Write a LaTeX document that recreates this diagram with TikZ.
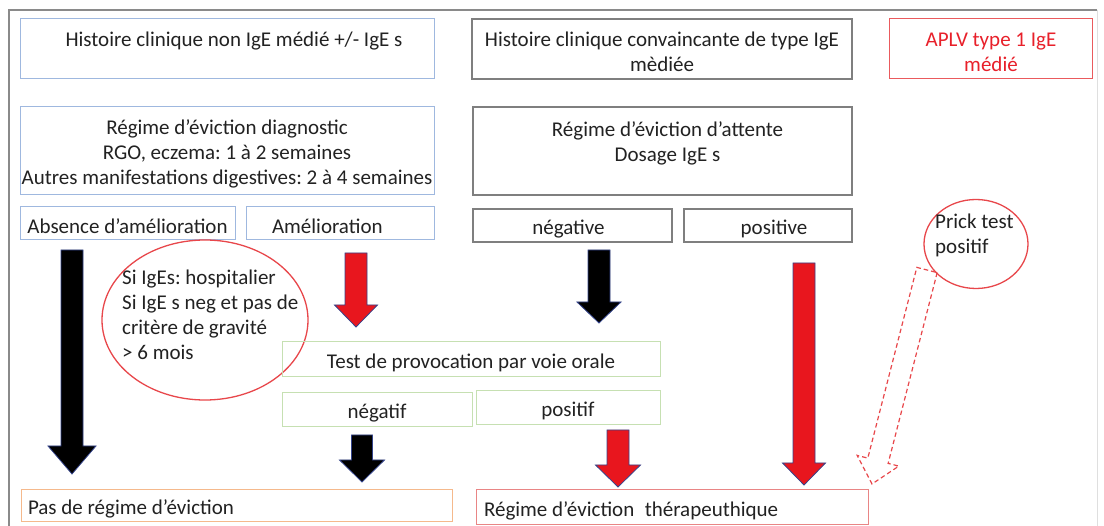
\documentclass[tikz,border=0pt]{standalone}
\usepackage{fontspec}
\setmainfont{Carlito}
\frenchspacing
\usetikzlibrary{calc,shapes.geometric}
\definecolor{bxblue}{HTML}{9FB8DF}
\definecolor{bxgray}{HTML}{7F7F7F}
\definecolor{bxred}{HTML}{EA5A5D}
\definecolor{bxgreen}{HTML}{C6E0B2}
\definecolor{bxorange}{HTML}{F5B98C}
\definecolor{bxpink}{HTML}{E98585}
\definecolor{ellred}{HTML}{E8474B}
\definecolor{arrred}{HTML}{E8161E}
\definecolor{arrline}{HTML}{34448C}
\definecolor{txt}{HTML}{222222}
\definecolor{aplvred}{HTML}{E8202A}
\definecolor{framecol}{HTML}{8A8A8A}

\newcommand{\upstrut}{\rule{0pt}{21pt}}

\tikzset{
  every node/.style={font=\fontsize{21}{25}\selectfont\frenchspacing, text=txt},
  box/.style={draw, rectangle, inner sep=0pt, line width=1pt, align=center},
  bluebox/.style={box, draw=bxblue},
  graybox/.style={box, draw=bxgray, line width=1.3pt},
  redbox/.style={box, draw=bxred},
  greenbox/.style={box, draw=bxgreen},
  orangebox/.style={box, draw=bxorange},
  pinkbox/.style={box, draw=bxpink},
  blackarr/.style={fill=black, draw=arrline, line width=0.8pt, line join=miter},
  redarr/.style={fill=arrred, draw=arrline, line width=0.8pt, line join=miter},
  dasharr/.style={draw=ellred, line width=1.2pt, dash pattern=on 4.5pt off 3pt},
  oval/.style={draw=ellred, ellipse, line width=1.3pt, inner sep=0pt},
  plain/.style={align=left, inner sep=0pt, anchor=north west}
}

% block arrow: style, start, end, half shaft, half head, head length
\newcommand{\blockarr}[6]{%
  \coordinate (hb) at ($(#3)!#6!(#2)$);
  \draw[#1] ($(#2)!#4!90:(#3)$) -- ($(hb)!#4!90:(#3)$) -- ($(hb)!#5!90:(#3)$)
    -- (#3) -- ($(hb)!#5!-90:(#3)$) -- ($(hb)!#4!-90:(#3)$) -- ($(#2)!#4!-90:(#3)$) -- cycle;
}

\begin{document}
\begin{tikzpicture}[x=1pt,y=-1pt]
\useasboundingbox (0,0) rectangle (1104,526);
\fill[white] (0,0) rectangle (1104,526);

% outer frame
\draw[gray!25, line width=1pt] (1097,10) -- (1097,540);
\draw[framecol, line width=2.6pt] (9,540) -- (9,10) -- (1097,10);

% row 1
\node[bluebox, minimum width=414, minimum height=60] (a1) at (227,49)
  {\upstrut\hspace*{14pt}Histoire clinique non IgE médié +/- IgE s\\\mbox{}};
\node[graybox, minimum width=380, minimum height=60] (a2) at (662,49)
  {\upstrut Histoire clinique convaincante de type IgE\\mèdiée};
\node[redbox, minimum width=203, minimum height=60, text=aplvred] (a3) at (991,49)
  {\upstrut APLV type 1 IgE\\médié};

% row 2
\node[bluebox, minimum width=414, minimum height=88] (b1) at (227,151)
  {\upstrut Régime d’éviction diagnostic\\RGO, eczema: 1 à 2 semaines\\Autres manifestations digestives: 2 à 4 semaines};
\node[graybox, minimum width=379, minimum height=88] (b2) at (662.5,151)
  {\upstrut\hspace*{10pt}Régime d’éviction d’attente\\\hspace*{10pt}Dosage IgE s\\\mbox{}};

% row 3
\node[bluebox, minimum width=215, minimum height=33] (c1) at (127.5,223.5)
  {\upstrut Absence d’amélioration};
\node[bluebox, minimum width=188, minimum height=33] (c2) at (340,223.5)
  {\upstrut\makebox[136pt][l]{Amélioration}};
\node[graybox, minimum width=199, minimum height=33] (c3) at (572.5,225.5)
  {\upstrut négative\hspace*{8pt}};
\node[graybox, minimum width=168, minimum height=33] (c4) at (768,225.5)
  {\upstrut\hspace*{12pt}positive};

% ovals
\node[oval, minimum width=206, minimum height=160] (ell) at (205,320) {};
\node[plain] (elltxt) at (122,270)
  {Si IgEs: hospitalier\\Si IgE s neg et pas de\\critère de gravité\\> 6 mois};
\node[oval, minimum width=104, minimum height=89] (prick) at (976,244) {};
\node[plain] (pricktxt) at (935,214) {Prick test\\positif};

% test rows
\node[greenbox, minimum width=378, minimum height=35] (d) at (471,359.5)
  {\upstrut Test de provocation par voie orale};
\node[greenbox, minimum width=190, minimum height=34] (e1) at (377,410)
  {\upstrut négatif};
\node[greenbox, minimum width=184, minimum height=34] (e2) at (568,408)
  {\upstrut positif};

% bottom
\node[orangebox, minimum width=431, minimum height=32] (f1) at (236.5,506)
  {\upstrut\makebox[417pt][l]{Pas de régime d’éviction}};
\node[pinkbox, minimum width=392, minimum height=35] (f2) at (672,507.5)
  {\upstrut\makebox[376pt][l]{Régime d’éviction\hspace{0.5em}thérapeuthique}};

% arrow end points
\coordinate (s1) at (72,250);  \coordinate (t1) at (72,474);
\coordinate (s2) at (356,253); \coordinate (t2) at (356,327);
\coordinate (s3) at (599,250); \coordinate (t3) at (599,323);
\coordinate (s4) at (804,263); \coordinate (t4) at (804,485);
\coordinate (s5) at (362,435); \coordinate (t5) at (362,482);
\coordinate (s6) at (618,430); \coordinate (t6) at (618,487);
\coordinate (s7) at (927,270); \coordinate (t7) at (872,484);

\blockarr{blackarr}{s1}{t1}{11pt}{24pt}{28pt}
\blockarr{redarr}{s2}{t2}{11pt}{21.5pt}{22pt}
\blockarr{blackarr}{s3}{t3}{11pt}{22pt}{21pt}
\blockarr{redarr}{s4}{t4}{11pt}{21.5pt}{22pt}
\blockarr{blackarr}{s5}{t5}{10.5pt}{22.5pt}{22pt}
\blockarr{redarr}{s6}{t6}{11pt}{22.5pt}{22pt}
\blockarr{dasharr}{s7}{t7}{10.5pt}{21.5pt}{24pt}
\end{tikzpicture}
\end{document}
